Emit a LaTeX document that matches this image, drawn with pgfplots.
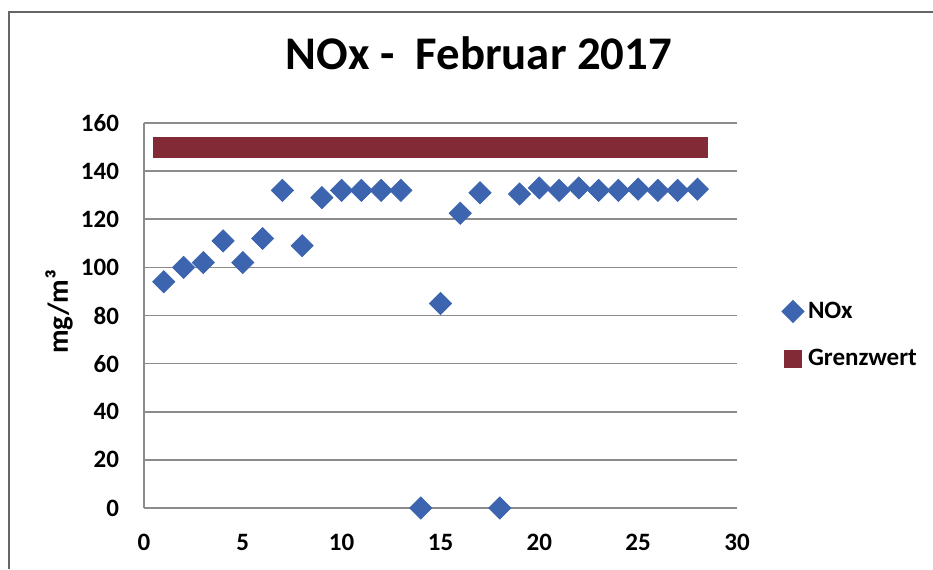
\documentclass[border=0pt]{standalone}
\usepackage{pgfplots}
\pgfplotsset{compat=1.18}
\usepackage{fontspec}
\setmainfont{Carlito}
\definecolor{noxblue}{RGB}{60,100,175}
\definecolor{grenz}{RGB}{130,42,54}
\definecolor{gridgray}{RGB}{140,140,140}
\begin{document}
\begin{tikzpicture}
\path[use as bounding box] (0,0) rectangle (466.5pt,284.5pt);
\draw[gray!80!black, line width=1pt] (4.5pt,0) -- (4.5pt,278.5pt) -- (466.5pt,278.5pt);
\begin{axis}[
  at={(72pt,30.5pt)}, anchor=south west,
  scale only axis, width=296.5pt, height=192.5pt,
  xmin=0, xmax=30, ymin=0, ymax=160,
  xtick={0,5,...,30}, ytick={0,20,...,160},
  major tick length=0pt,
  axis x line*=bottom, axis y line*=left,
  axis line style={gridgray, line width=0.8pt, -},
  ymajorgrids, major grid style={gridgray, line width=0.8pt},
  tick label style={font=\fontsize{12.5}{14}\selectfont\bfseries},
  /pgf/number format/assume math mode=true,
  yticklabel style={xshift=-9pt},
  xticklabel style={yshift=-9.5pt},
  title={NOx -\ \ Februar 2017},
  title style={font=\fontsize{23.4}{26}\selectfont\bfseries, at={(0.565,1)}, yshift=17pt},
  ylabel={mg/m³},
  ylabel style={font=\fontsize{14.5}{16}\selectfont\bfseries, at={(-0.108,0.51)}},
  legend style={at={(1.065,0.449)}, anchor=west, draw=none, fill=none,
    font=\fontsize{12.5}{14}\selectfont\bfseries, row sep=10pt,
    legend cell align=left},
  clip=false,
]
\addplot[only marks, mark=square*, mark size=3.9pt, mark options={rotate=45, fill=noxblue, draw=noxblue}]
coordinates {
(1,94) (2,100) (3,102) (4,111) (5,102) (6,112) (7,132) (8,109) (9,129) (10,132)
(11,132) (12,132) (13,132) (14,0) (15,85) (16,122.5) (17,131) (18,0) (19,130.5) (20,133)
(21,132) (22,133) (23,132) (24,132) (25,132.5) (26,132) (27,132) (28,132.5)
};
\addlegendentry{NOx}
\addplot[grenz, line width=10.5pt, line cap=rect, forget plot] coordinates {(1,150) (28,150)};
\addlegendimage{only marks, mark=square*, mark size=4.25pt, mark options={fill=grenz, draw=grenz}}
\addlegendentry{Grenzwert}
\end{axis}
\end{tikzpicture}
\end{document}
